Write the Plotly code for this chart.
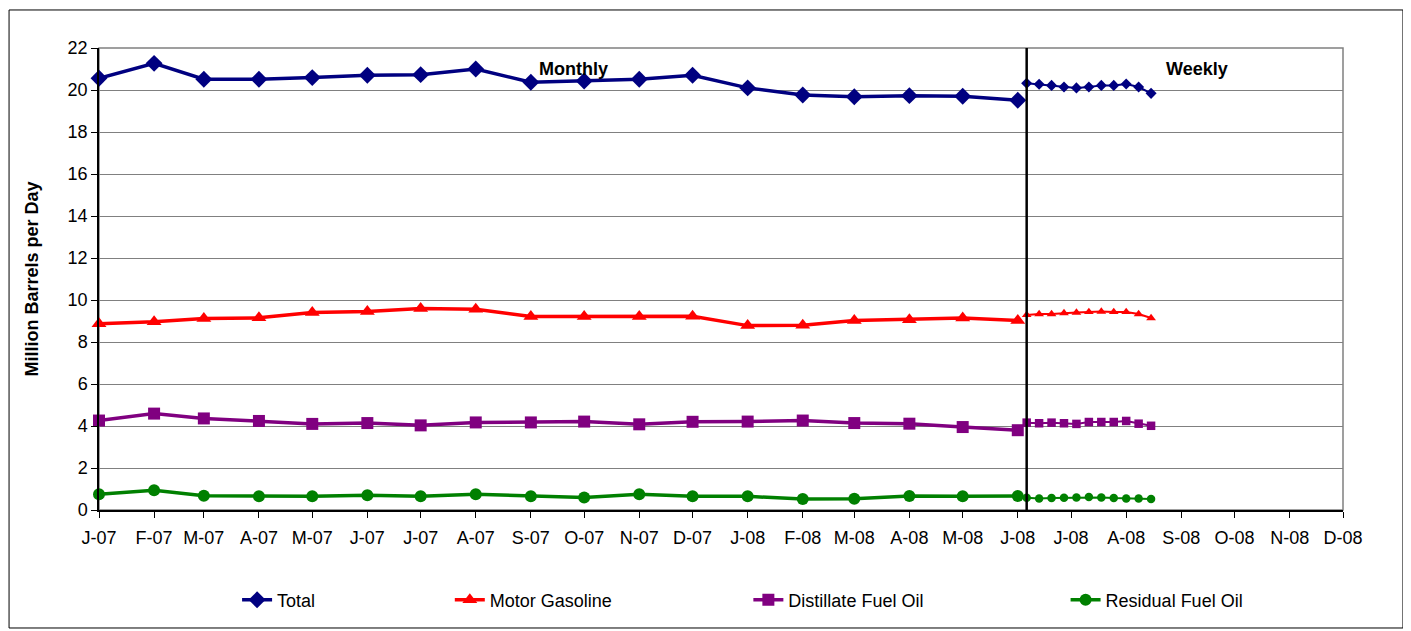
import plotly.graph_objects as go

months = ["2007-01-01", "2007-02-01", "2007-03-01", "2007-04-01", "2007-05-01", "2007-06-01",
          "2007-07-01", "2007-08-01", "2007-09-01", "2007-10-01", "2007-11-01", "2007-12-01",
          "2008-01-01", "2008-02-01", "2008-03-01", "2008-04-01", "2008-05-01", "2008-06-01"]
weeks = ["2008-06-06", "2008-06-13", "2008-06-20", "2008-06-27", "2008-07-04", "2008-07-11",
         "2008-07-18", "2008-07-25", "2008-08-01", "2008-08-08", "2008-08-15"]

tick_dates = ["2007-01-01", "2007-02-01", "2007-03-01", "2007-04-01", "2007-05-01", "2007-06-01",
              "2007-07-01", "2007-08-01", "2007-09-01", "2007-10-01", "2007-11-01", "2007-12-01",
              "2008-01-01", "2008-02-01", "2008-03-01", "2008-04-01", "2008-05-01", "2008-06-01",
              "2008-07-01", "2008-08-01", "2008-09-01", "2008-10-01", "2008-11-01", "2008-12-01"]
tick_labels = ["J-07", "F-07", "M-07", "A-07", "M-07", "J-07", "J-07", "A-07", "S-07", "O-07", "N-07", "D-07",
               "J-08", "F-08", "M-08", "A-08", "M-08", "J-08", "J-08", "A-08", "S-08", "O-08", "N-08", "D-08"]

total_m = [20.56, 21.27, 20.51, 20.51, 20.59, 20.70, 20.73, 21.00, 20.37, 20.43, 20.51, 20.70,
           20.10, 19.76, 19.68, 19.73, 19.70, 19.51]
gasoline_m = [8.87, 8.97, 9.12, 9.15, 9.40, 9.45, 9.60, 9.56, 9.22, 9.22, 9.21, 9.23,
              8.78, 8.80, 9.02, 9.06, 9.14, 9.02]
distillate_m = [4.26, 4.59, 4.36, 4.24, 4.10, 4.14, 4.03, 4.17, 4.17, 4.21, 4.08, 4.20,
                4.21, 4.26, 4.14, 4.11, 3.95, 3.80]
residual_m = [0.75, 0.94, 0.68, 0.65, 0.65, 0.70, 0.65, 0.75, 0.65, 0.59, 0.75, 0.65,
              0.65, 0.52, 0.54, 0.67, 0.65, 0.67]

total_w = [20.32, 20.27, 20.22, 20.14, 20.10, 20.14, 20.22, 20.22, 20.29, 20.14, 19.84]
gasoline_w = [9.29, 9.33, 9.33, 9.38, 9.40, 9.43, 9.45, 9.43, 9.43, 9.33, 9.14]
distillate_w = [4.16, 4.13, 4.16, 4.13, 4.10, 4.19, 4.19, 4.19, 4.24, 4.11, 4.01]
residual_w = [0.58, 0.55, 0.57, 0.58, 0.60, 0.62, 0.60, 0.57, 0.55, 0.55, 0.52]

names = ["Total", "Motor Gasoline", "Distillate Fuel Oil", "Residual Fuel Oil"]
colors = ["#000080", "#FF0000", "#800080", "#008000"]
symbols = ["diamond", "triangle-up", "square", "circle"]
msizes = [13, 13, 12, 12]
wsizes = [8.5, 8.5, 8.5, 8.5]
monthly = [total_m, gasoline_m, distillate_m, residual_m]
weekly = [total_w, gasoline_w, distillate_w, residual_w]
legend_ids = ["legend", "legend2", "legend3", "legend4"]
legend_x = [0.111, 0.282, 0.522, 0.777]

FONT = "Liberation Sans, Arial, sans-serif"

fig = go.Figure()
for i in range(4):
    fig.add_trace(go.Scatter(
        x=months, y=monthly[i], name=names[i], mode="lines+markers",
        line=dict(color=colors[i], width=3.5),
        marker=dict(symbol=symbols[i], size=msizes[i], color=colors[i]),
        legend=legend_ids[i], cliponaxis=False))
    fig.add_trace(go.Scatter(
        x=weeks, y=weekly[i], name=names[i], mode="lines+markers",
        line=dict(color=colors[i], width=2),
        marker=dict(symbol=symbols[i], size=wsizes[i], color=colors[i]),
        showlegend=False, cliponaxis=False))

# divider between monthly and weekly data
fig.add_shape(type="line", xref="x", yref="y", x0=weeks[0], x1=weeks[0], y0=0, y1=22,
              line=dict(color="black", width=2.5))
# outer chart border
fig.add_shape(type="rect", xref="paper", yref="paper", x0=-0.0723, x1=1.0482, y0=-0.2554, y1=1.0823,
              line=dict(color="black", width=1))
# plot area border (top/right)
fig.add_shape(type="rect", xref="paper", yref="paper", x0=0, x1=1, y0=0, y1=1,
              line=dict(color="#808080", width=1.5), layer="below")

fig.add_annotation(x="2007-09-25", y=21.0, xref="x", yref="y", text="<b>Monthly</b>", showarrow=False,
                   font=dict(family=FONT, size=18, color="black"), xanchor="center", yanchor="middle")
fig.add_annotation(x="2008-09-10", y=21.0, xref="x", yref="y", text="<b>Weekly</b>", showarrow=False,
                   font=dict(family=FONT, size=18, color="black"), xanchor="center", yanchor="middle")

legend_style = dict(orientation="h", yanchor="middle", xanchor="left", y=-0.195,
                    font=dict(family=FONT, size=18, color="black"), bgcolor="rgba(0,0,0,0)",
                    itemwidth=30)
layout_legends = {}
for lid, lx in zip(legend_ids, legend_x):
    layout_legends[lid] = dict(legend_style, x=lx)

fig.update_layout(
    width=1403, height=623,
    margin=dict(l=91, r=68, t=40, b=121),
    paper_bgcolor="white", plot_bgcolor="white",
    font=dict(family=FONT, size=18, color="black"),
    xaxis=dict(type="date", range=["2007-01-01", "2008-12-01"], tickvals=tick_dates, ticktext=tick_labels,
               showgrid=False, showline=True, linecolor="black", linewidth=1.5,
               ticks="outside", ticklen=6, tickcolor="black", tickwidth=1, ticklabelstandoff=5,
               tickfont=dict(family=FONT, size=18, color="black"), zeroline=False),
    yaxis=dict(range=[0, 22], tickvals=list(range(0, 23, 2)), showgrid=True, gridcolor="#808080", gridwidth=1,
               showline=True, linecolor="black", linewidth=1.5, ticks="outside", ticklen=6,
               tickcolor="black", tickwidth=1, zeroline=False,
               tickfont=dict(family=FONT, size=18, color="black"),
               title=dict(text="<b>Million Barrels per Day</b>", font=dict(family=FONT, size=18, color="black"),
                          standoff=24)),
    showlegend=True,
    **layout_legends,
)

fig.write_html("out.html")
